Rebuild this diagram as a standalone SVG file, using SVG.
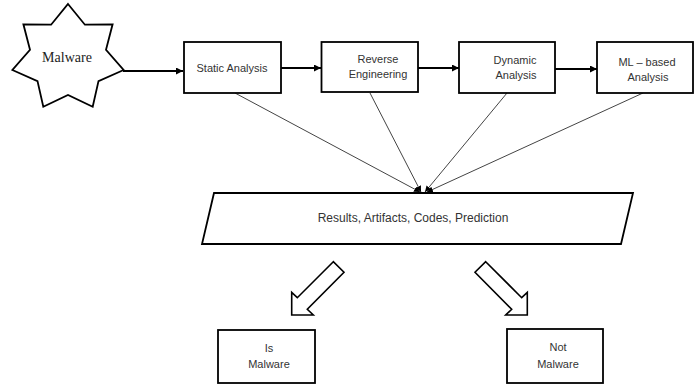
<svg xmlns="http://www.w3.org/2000/svg" width="697" height="385" viewBox="0 0 697 385">
<defs>
<style>
.box{fill:#fff;stroke:#000;stroke-width:1.8}
.t{font-family:"Liberation Sans",Arial,sans-serif;font-size:11px;fill:#333;text-anchor:middle}
.tr{font-family:"Liberation Sans",Arial,sans-serif;font-size:12px;fill:#333;text-anchor:middle}
.main{stroke:#000;stroke-width:2;fill:none}
.thin{stroke:#444;stroke-width:1;fill:none}
.blk{fill:#fff;stroke:#000;stroke-width:1.6;stroke-linejoin:miter}
</style>
<marker id="ah" viewBox="0 0 10 10" refX="10" refY="5" markerWidth="3.5" markerHeight="3.5" markerUnits="strokeWidth" orient="auto">
<path d="M0,0 L10,5 L0,10 z" fill="#000"/>
</marker>
<marker id="ah2" viewBox="0 0 10 10" refX="10" refY="5" markerWidth="6" markerHeight="6" markerUnits="strokeWidth" orient="auto">
<path d="M0,0 L10,5 L0,10 z" fill="#000"/>
</marker>
</defs>
<rect width="697" height="385" fill="#fff"/>
<g id="connectors">
<line class="main" x1="123" y1="71" x2="183" y2="71" marker-end="url(#ah)"/>
<line class="main" x1="281" y1="68" x2="321" y2="68" marker-end="url(#ah)"/>
<line class="main" x1="418" y1="68" x2="459" y2="68" marker-end="url(#ah)"/>
<line class="main" x1="555" y1="69" x2="597" y2="69" marker-end="url(#ah)"/>
<line class="thin" x1="235" y1="93" x2="420" y2="192" marker-end="url(#ah2)"/>
<line class="thin" x1="370" y1="93" x2="421" y2="192" marker-end="url(#ah2)"/>
<line class="thin" x1="507" y1="93" x2="425" y2="192" marker-end="url(#ah2)"/>
<line class="thin" x1="643" y1="93" x2="427" y2="192" marker-end="url(#ah2)"/>
<polygon class="blk" points="333.3,261.7 297.3,297.7 291.7,292.3 291.7,315 313.3,315 307.3,309.3 344,272.3"/>
<polygon class="blk" points="485.7,261.7 521.7,297.7 527.3,292.3 527.3,315 505.7,315 511.7,309.3 475,272.3"/>
</g>
<g id="malware">
<polygon class="box" points="68,4 84.9,24.7 112.6,24.3 106,49.8 123.6,70 98.5,81.1 92.7,106.7 68,95 43.3,106.7 37.5,81.1 12.4,70 30,49.8 23.4,24.3 51.1,24.7"/>
<text x="67" y="62" style="font-family:'Liberation Serif','Times New Roman',serif;font-size:14px;fill:#222;text-anchor:middle">Malware</text>
</g>
<g id="static">
<rect class="box" x="184" y="42" width="97" height="51"/>
<text class="t" x="232" y="72">Static Analysis</text>
</g>
<g id="reverse">
<rect class="box" x="321.5" y="42" width="96.5" height="50"/>
<text class="t" x="378" y="63">Reverse</text>
<text class="t" x="378" y="78">Engineering</text>
</g>
<g id="dynamic">
<rect class="box" x="459" y="42" width="96" height="51"/>
<text class="t" x="515" y="64">Dynamic</text>
<text class="t" x="516" y="79">Analysis</text>
</g>
<g id="ml">
<rect class="box" x="597" y="42" width="96" height="51"/>
<text class="t" x="647" y="66">ML – based</text>
<text class="t" x="648" y="81">Analysis</text>
</g>
<g id="results">
<polygon class="box" points="214,193 633,193 621,244 202,244"/>
<text class="tr" x="413" y="222">Results, Artifacts, Codes, Prediction</text>
</g>
<g id="is-malware">
<rect class="box" x="218" y="330" width="97" height="53"/>
<text class="t" x="269" y="352">Is</text>
<text class="t" x="269" y="368">Malware</text>
</g>
<g id="not-malware">
<rect class="box" x="507" y="329" width="96" height="54"/>
<text class="t" x="558" y="351">Not</text>
<text class="t" x="558" y="368">Malware</text>
</g>
</svg>
